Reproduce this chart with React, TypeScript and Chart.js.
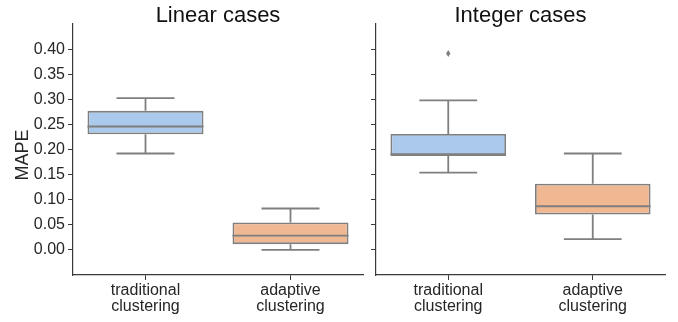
import React, { useEffect, useRef } from "react";
import { Chart, registerables } from "chart.js";

Chart.register(...registerables);

const FONT = "'Liberation Sans', Arial, sans-serif";
const TEXT = "#262626";
const LINE_GRAY = "#7f7f7f";
const AXIS = "#3a3a3a";

// Categories and colours
const categories = [["traditional", "clustering"], ["adaptive", "clustering"]];
const boxColors = ["#abc9ea", "#efb792"];

// Y-axis ticks (MAPE)
const yTicks = [0, 0.05, 0.1, 0.15, 0.2, 0.25, 0.3, 0.35, 0.4];
const yMin = -0.05;
const yMax = 0.45;

// Linear cases: five-number summaries per category
const linearLow = [0.192, 0.0];
const linearQ1 = [0.2305, 0.0115];
const linearMed = [0.2458, 0.0285];
const linearQ3 = [0.277, 0.0545];
const linearHigh = [0.3024, 0.0825];
const linearOutliers: number[][] = [[], []];

// Integer cases: five-number summaries per category
const integerLow = [0.154, 0.0213];
const integerQ1 = [0.187, 0.0705];
const integerMed = [0.1905, 0.087];
const integerQ3 = [0.231, 0.132];
const integerHigh = [0.298, 0.192];
const integerOutliers: number[][] = [[0.391], []];

type Stats = {
  low: number[];
  q1: number[];
  med: number[];
  q3: number[];
  high: number[];
  outliers: number[][];
};

type PanelProps = {
  title: string;
  stats: Stats;
  left: number;
  width: number;
  axisWidth: number;
  padRight: number;
  showYLabels: boolean;
};

function Panel({ title, stats, left, width, axisWidth, padRight, showYLabels }: PanelProps) {
  const ref = useRef<HTMLCanvasElement | null>(null);

  useEffect(() => {
    if (!ref.current) return;

    // Whiskers, caps, medians and fliers on top of the floating-bar boxes
    const boxExtras = {
      id: "boxExtras",
      afterDatasetsDraw(chart: any) {
        const ctx = chart.ctx;
        const xs = chart.scales.x;
        const ys = chart.scales.y;
        const meta = chart.getDatasetMeta(0);
        ctx.save();
        ctx.strokeStyle = LINE_GRAY;
        ctx.lineWidth = 1.8;
        ctx.lineCap = "butt";
        categories.forEach((_, i) => {
          const cx = xs.getPixelForValue(i);
          const bw = meta.data[i].width;
          const cap = bw / 2;
          const yLow = ys.getPixelForValue(stats.low[i]);
          const yQ1 = ys.getPixelForValue(stats.q1[i]);
          const yMed = ys.getPixelForValue(stats.med[i]);
          const yQ3 = ys.getPixelForValue(stats.q3[i]);
          const yHigh = ys.getPixelForValue(stats.high[i]);
          ctx.beginPath();
          // whiskers
          ctx.moveTo(cx, yQ3);
          ctx.lineTo(cx, yHigh);
          ctx.moveTo(cx, yQ1);
          ctx.lineTo(cx, yLow);
          // caps
          ctx.moveTo(cx - cap / 2, yHigh);
          ctx.lineTo(cx + cap / 2, yHigh);
          ctx.moveTo(cx - cap / 2, yLow);
          ctx.lineTo(cx + cap / 2, yLow);
          // median
          ctx.moveTo(cx - bw / 2, yMed);
          ctx.lineTo(cx + bw / 2, yMed);
          ctx.stroke();
          // fliers as small diamonds
          ctx.fillStyle = LINE_GRAY;
          stats.outliers[i].forEach((v) => {
            const oy = ys.getPixelForValue(v);
            ctx.beginPath();
            ctx.moveTo(cx, oy - 3.5);
            ctx.lineTo(cx + 2.2, oy);
            ctx.lineTo(cx, oy + 3.5);
            ctx.lineTo(cx - 2.2, oy);
            ctx.closePath();
            ctx.fill();
          });
        });
        ctx.restore();
      },
    };

    // Panel title and y-axis label
    const texts = {
      id: "panelTexts",
      afterDraw(chart: any) {
        const ctx = chart.ctx;
        const area = chart.chartArea;
        ctx.save();
        ctx.fillStyle = "#111111";
        ctx.font = `22px ${FONT}`;
        ctx.textAlign = "center";
        ctx.textBaseline = "alphabetic";
        ctx.fillText(title, (area.left + area.right) / 2, 22);
        if (showYLabels) {
          ctx.fillStyle = TEXT;
          ctx.font = `18px ${FONT}`;
          ctx.translate(23, 155);
          ctx.rotate(-Math.PI / 2);
          ctx.textBaseline = "middle";
          ctx.fillText("MAPE", 0, 0);
        }
        ctx.restore();
      },
    };

    const chart = new Chart(ref.current, {
      type: "bar",
      data: {
        labels: categories as any,
        datasets: [
          {
            data: stats.q1.map((v, i) => [v, stats.q3[i]]) as any,
            backgroundColor: boxColors,
            borderColor: LINE_GRAY,
            borderWidth: 1.8,
            borderSkipped: false,
            barPercentage: 0.8,
            categoryPercentage: 1,
          },
        ],
      },
      options: {
        responsive: false,
        animation: false,
        devicePixelRatio: 1,
        layout: { padding: { top: 24, left: 0, right: padRight, bottom: 0 } },
        plugins: {
          legend: { display: false },
          tooltip: { enabled: false },
          title: { display: false },
        },
        scales: {
          x: {
            offset: true,
            grid: {
              display: true,
              offset: false,
              drawOnChartArea: false,
              drawTicks: true,
              tickLength: 5,
              color: AXIS,
            },
            border: { display: true, color: AXIS, width: 1.2 },
            ticks: {
              color: TEXT,
              font: { family: FONT, size: 16, lineHeight: 1.0 },
              padding: 3,
              maxRotation: 0,
              autoSkip: false,
            },
            afterFit(scale: any) {
              scale.height = 47;
            },
          },
          y: {
            min: yMin,
            max: yMax,
            grid: {
              display: true,
              drawOnChartArea: false,
              drawTicks: true,
              tickLength: 5,
              color: AXIS,
            },
            border: { display: true, color: AXIS, width: 1.2 },
            ticks: {
              color: TEXT,
              font: { family: FONT, size: 16 },
              padding: 3,
              callback: (v: any) => (showYLabels ? Number(v).toFixed(2) : ""),
            },
            afterBuildTicks(scale: any) {
              scale.ticks = yTicks.map((v) => ({ value: v }));
            },
            afterFit(scale: any) {
              scale.width = axisWidth;
            },
          },
        },
      },
      plugins: [boxExtras, texts],
    });

    return () => chart.destroy();
  }, [title, stats, axisWidth, padRight, showYLabels]);

  return (
    <canvas
      ref={ref}
      width={width}
      height={322}
      style={{ position: "absolute", left, top: 0, width, height: 322 }}
    />
  );
}

const linearStats: Stats = {
  low: linearLow,
  q1: linearQ1,
  med: linearMed,
  q3: linearQ3,
  high: linearHigh,
  outliers: linearOutliers,
};

const integerStats: Stats = {
  low: integerLow,
  q1: integerQ1,
  med: integerMed,
  q3: integerQ3,
  high: integerHigh,
  outliers: integerOutliers,
};

export default function App() {
  return (
    <div
      style={{
        position: "fixed",
        left: 0,
        top: 0,
        width: 678,
        height: 322,
        background: "#ffffff",
        overflow: "hidden",
      }}
    >
      <Panel
        title="Linear cases"
        stats={linearStats}
        left={0}
        width={366}
        axisWidth={73}
        padRight={3}
        showYLabels={true}
      />
      <Panel
        title="Integer cases"
        stats={integerStats}
        left={366}
        width={312}
        axisWidth={10}
        padRight={13}
        showYLabels={false}
      />
    </div>
  );
}
